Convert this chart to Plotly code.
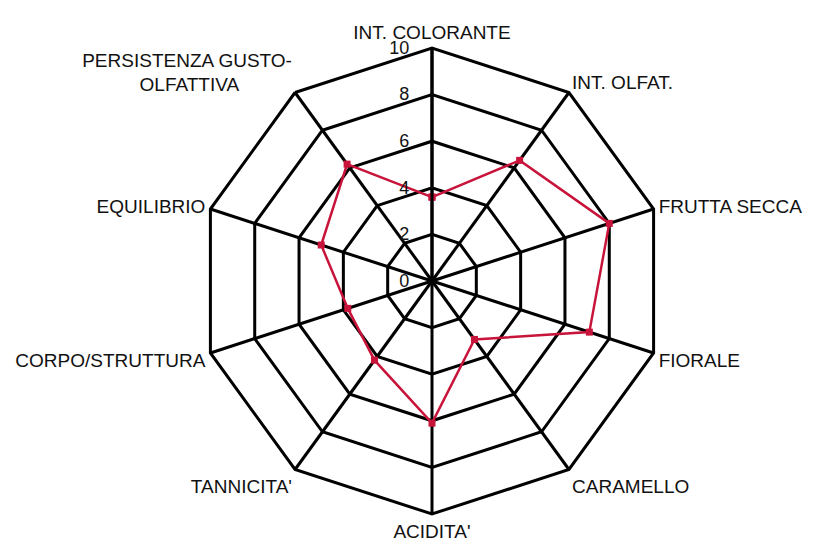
import plotly.graph_objects as go

categories = ["INT. COLORANTE", "INT. OLFAT.", "FRUTTA SECCA", "FIORALE", "CARAMELLO",
              "ACIDITA'", "TANNICITA'", "CORPO/STRUTTURA", "EQUILIBRIO",
              "PERSISTENZA GUSTO-<br>OLFATTIVA"]
values = [3.6, 6.4, 8.0, 7.1, 3.1, 6.1, 4.2, 3.8, 5.0, 6.2]
tick_vals = [0, 2, 4, 6, 8, 10]
tick_text = ["0", "2", "4", "6", "8", "10"]

# padding with non-breaking spaces to mimic the label alignment of the original
pad = "\u00a0"
theta_labels = [c + pad * 10 if "<br>" in c else c for c in categories]
radial_ticktext = [t + pad * 3 for t in tick_text]

fig = go.Figure()
fig.add_trace(go.Scatterpolar(
    r=values + values[:1],
    theta=theta_labels + theta_labels[:1],
    mode="lines+markers",
    line=dict(color="#c8143a", width=2.5),
    marker=dict(symbol="square", size=7, color="#c8143a"),
    showlegend=False,
))

fig.update_layout(
    width=818, height=545,
    margin=dict(l=191, r=161, t=40, b=39),
    paper_bgcolor="white",
    font=dict(family="Liberation Sans, Arial, sans-serif", color="#111111", size=19),
    polar=dict(
        bgcolor="white",
        gridshape="linear",
        radialaxis=dict(
            range=[0, 10], tickvals=tick_vals, ticktext=radial_ticktext,
            angle=90, tickangle=90, side="counterclockwise",
            showline=True, linecolor="black", linewidth=3,
            gridcolor="black", gridwidth=3, ticks="",
            tickfont=dict(size=18),
        ),
        angularaxis=dict(
            rotation=90, direction="clockwise",
            showline=True, linecolor="black", linewidth=3,
            gridcolor="black", gridwidth=3, ticks="",
            tickfont=dict(size=19),
        ),
    ),
)

fig.write_html("out.html")
